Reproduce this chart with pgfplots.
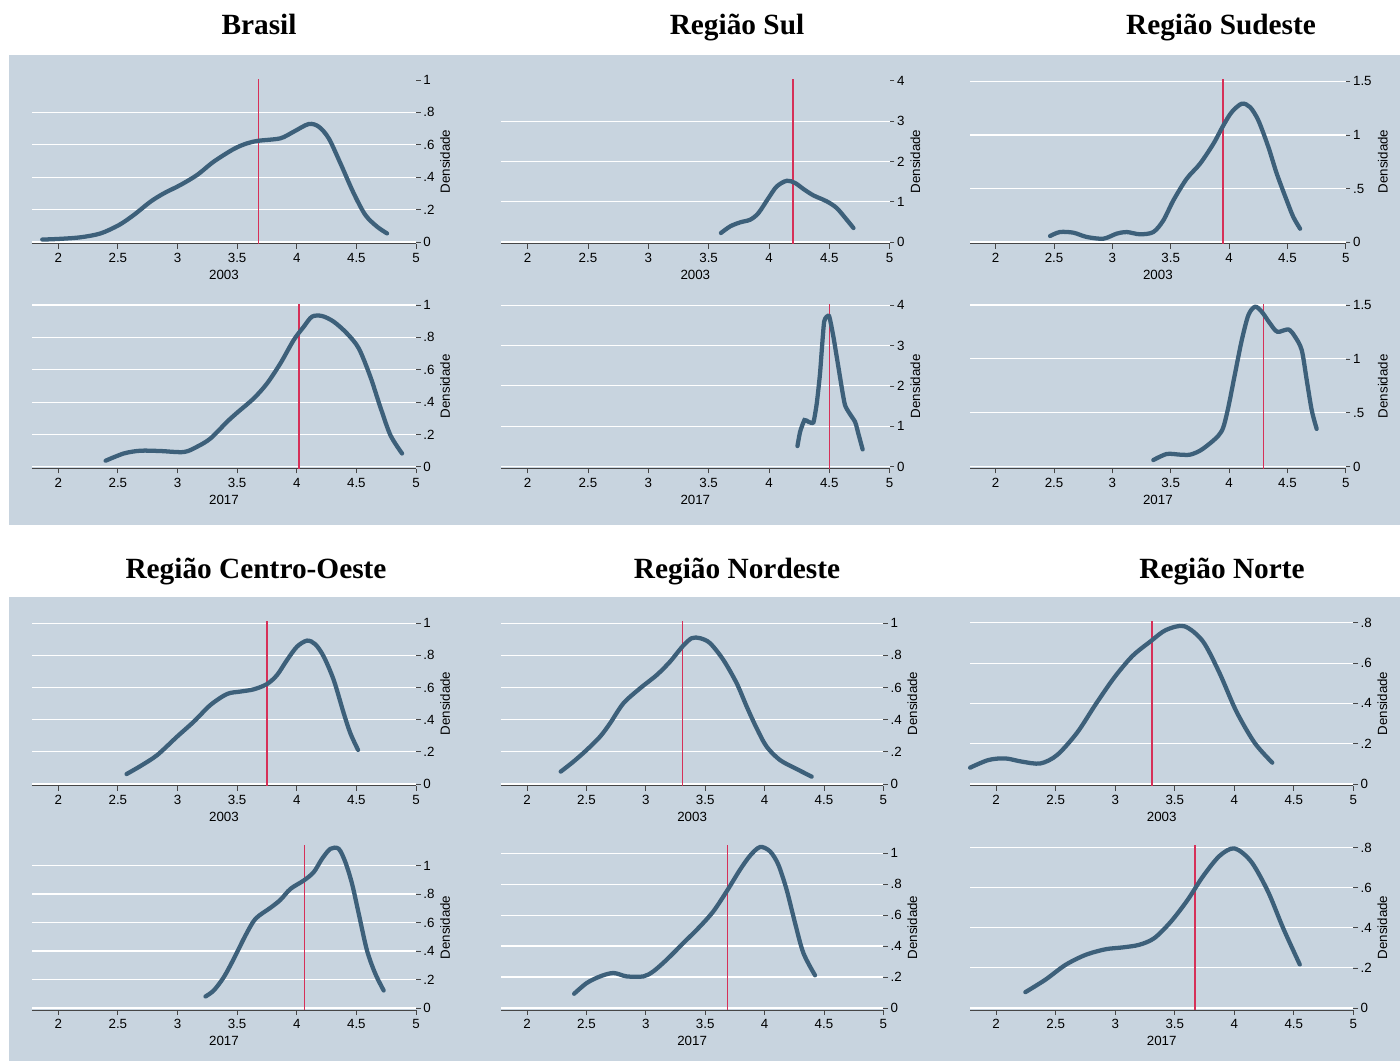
\documentclass[border=0pt]{standalone}
\usepackage{pgfplots}
\pgfplotsset{compat=1.18}
\usepackage{fontspec}
\setmainfont{Liberation Sans}
\newfontfamily\titlefont{Liberation Serif}
\definecolor{bgc}{RGB}{200,212,223}
\definecolor{curvec}{RGB}{61,96,122}
\definecolor{redc}{RGB}{214,48,88}
\definecolor{axisc}{RGB}{70,70,70}
\newcommand\dlab[1]{\node[rotate=90, font=\fontsize{10}{12}\selectfont, inner sep=0pt] at (rel axis cs:#1,0.5) {Densidade};}
\pgfplotsset{
  dens/.style={
    scale only axis, height=123.75pt, anchor=south west,
    xmin=1.78, xmax=5,
    axis x line*=bottom, axis y line*=right,
    x axis line style={draw=axisc, line width=0.75pt, -},
    y axis line style={draw=none},
    xtick={2,2.5,3,3.5,4,4.5,5},
    xticklabels={2,2.5,3,3.5,4,4.5,5},
    tick align=outside, major tick length=3.5pt,
    tick style={draw=axisc, line width=0.6pt},
    ymajorgrids, grid style={white, line width=0.8pt},
    /pgf/number format/assume math mode=true,
    ticklabel style={font=\fontsize{10}{12}\selectfont, text=black},
    yticklabel style={xshift=-1.5pt},
    label style={font=\fontsize{10}{12}\selectfont, text=black},
    xlabel style={yshift=1pt},
    clip=false,
  },
  dcurve/.style={smooth, line width=3.2pt, color=curvec, no markers, line cap=round},
  mline/.style={color=redc, line width=1pt, no markers},
  ybr/.style={ytick={0,0.2,0.4,0.6,0.8,1}, yticklabels={0,.2,.4,.6,.8,1}},
  ynt/.style={ytick={0,0.2,0.4,0.6,0.8}, yticklabels={0,.2,.4,.6,.8}},
  ysul/.style={ytick={0,1,2,3,4}, yticklabels={0,1,2,3,4}},
  yse/.style={ytick={0,0.5,1,1.5}, yticklabels={0,.5,1,1.5}},
}
\begin{document}
\begin{tikzpicture}[x=0.75pt,y=0.75pt]
\useasboundingbox (0,0) rectangle (1400,1061);
\fill[white] (0,0) rectangle (1400,1061);
\fill[bgc] (9,1006) rectangle (1400,536);
\fill[bgc] (9,464) rectangle (1400,0);
\node[anchor=base, font=\titlefont\bfseries\fontsize{22}{26}\selectfont] at (259,1026) {Brasil};
\node[anchor=base, font=\titlefont\bfseries\fontsize{22}{26}\selectfont] at (737,1026) {Região Sul};
\node[anchor=base, font=\titlefont\bfseries\fontsize{22}{26}\selectfont] at (1221,1026) {Região Sudeste};
\node[anchor=base, font=\titlefont\bfseries\fontsize{22}{26}\selectfont] at (256,482) {Região Centro-Oeste};
\node[anchor=base, font=\titlefont\bfseries\fontsize{22}{26}\selectfont] at (737,482) {Região Nordeste};
\node[anchor=base, font=\titlefont\bfseries\fontsize{22}{26}\selectfont] at (1222,482) {Região Norte};

% ---------------- Brasil 2003
\begin{axis}[dens, at={(24pt,612.75pt)}, width=288pt, ymin=-0.0123, ymax=1.006,
  ytick={0,0.2,0.4,0.6,0.8}, yticklabels={0,.2,.4,.6,.8},
  extra y ticks={1}, extra y tick labels={1}, extra y tick style={grid=none}, xlabel={2003}]
\addplot[mline] coordinates {(3.68,-0.0123) (3.68,1.006)};
\addplot[dcurve] coordinates {(1.866,0.015) (2.005,0.019) (2.187,0.029) (2.355,0.053) (2.51,0.105) (2.634,0.167) (2.774,0.249) (2.885,0.30) (3.025,0.352) (3.165,0.414) (3.304,0.496) (3.472,0.574) (3.584,0.609) (3.682,0.625) (3.863,0.640) (3.975,0.681) (4.10,0.728) (4.184,0.712) (4.268,0.640) (4.366,0.486) (4.478,0.30) (4.575,0.167) (4.673,0.095) (4.757,0.053)};
\dlab{1.0755}
\end{axis}
% ---------------- Brasil 2017
\begin{axis}[dens, at={(24pt,444.2pt)}, width=288pt, ymin=-0.0124, ymax=1.008, ybr, xlabel={2017}]
\addplot[mline] coordinates {(4.02,-0.0124) (4.02,1.008)};
\addplot[dcurve] coordinates {(2.397,0.037) (2.55,0.082) (2.69,0.099) (2.858,0.097) (3.053,0.091) (3.165,0.124) (3.277,0.175) (3.416,0.278) (3.50,0.334) (3.64,0.423) (3.751,0.515) (3.863,0.639) (3.975,0.784) (4.059,0.866) (4.128,0.928) (4.212,0.932) (4.31,0.897) (4.42,0.825) (4.52,0.732) (4.617,0.557) (4.70,0.371) (4.785,0.196) (4.883,0.082)};
\dlab{1.0755}
\end{axis}
% ---------------- Sul 2003
\begin{axis}[dens, at={(375.75pt,612.75pt)}, width=291.5pt, ymin=-0.0496, ymax=4.045,
  ytick={0,1,2,3}, yticklabels={0,1,2,3},
  extra y ticks={4}, extra y tick labels={4}, extra y tick style={grid=none}, xlabel={2003}]
\addplot[mline] coordinates {(4.20,-0.0496) (4.20,4.045)};
\addplot[dcurve] coordinates {(3.602,0.223) (3.679,0.388) (3.762,0.488) (3.845,0.554) (3.913,0.719) (3.996,1.091) (4.065,1.38) (4.148,1.52) (4.217,1.463) (4.286,1.314) (4.368,1.157) (4.479,1.008) (4.561,0.843) (4.644,0.554) (4.70,0.347)};
\dlab{1.066}
\end{axis}
% ---------------- Sul 2017
\begin{axis}[dens, at={(375.75pt,444.2pt)}, width=291.5pt, ymin=-0.0495, ymax=4.035, ysul, xlabel={2017}]
\addplot[mline] coordinates {(4.5,-0.0495) (4.5,4.035)};
\addplot[dcurve, tension=0.3] coordinates {(4.236,0.511) (4.258,0.866) (4.294,1.155) (4.327,1.113) (4.368,1.097) (4.396,1.567) (4.423,2.309) (4.457,3.588) (4.498,3.728) (4.534,3.216) (4.575,2.474) (4.63,1.526) (4.713,1.113) (4.74,0.825) (4.776,0.429)};
\dlab{1.066}
\end{axis}
% ---------------- Sudeste 2003
\begin{axis}[dens, at={(727.5pt,612.75pt)}, width=281.8pt, ymin=-0.0187, ymax=1.523, yse, xlabel={2003}]
\addplot[mline] coordinates {(3.948,-0.0187) (3.948,1.523)};
\addplot[dcurve] coordinates {(2.466,0.056) (2.551,0.093) (2.666,0.087) (2.78,0.047) (2.923,0.031) (3.037,0.078) (3.123,0.093) (3.237,0.072) (3.351,0.093) (3.437,0.202) (3.523,0.389) (3.637,0.591) (3.751,0.731) (3.866,0.918) (3.951,1.089) (4.023,1.214) (4.109,1.292) (4.18,1.26) (4.251,1.136) (4.337,0.887) (4.409,0.638) (4.494,0.389) (4.551,0.233) (4.609,0.124)};
\dlab{1.0985}
\end{axis}
% ---------------- Sudeste 2017
\begin{axis}[dens, at={(727.5pt,444.2pt)}, width=281.8pt, ymin=-0.0186, ymax=1.512, yse, xlabel={2017}]
\addplot[mline] coordinates {(4.293,-0.0186) (4.293,1.512)};
\addplot[dcurve] coordinates {(3.351,0.062) (3.466,0.118) (3.58,0.112) (3.666,0.112) (3.751,0.149) (3.837,0.217) (3.909,0.289) (3.951,0.366) (3.994,0.553) (4.051,0.863) (4.109,1.174) (4.166,1.407) (4.223,1.484) (4.28,1.438) (4.351,1.329) (4.414,1.252) (4.509,1.273) (4.566,1.205) (4.623,1.081) (4.666,0.801) (4.709,0.522) (4.751,0.351)};
\dlab{1.0985}
\end{axis}
% ---------------- Centro-Oeste 2003
\begin{axis}[dens, at={(24pt,206.25pt)}, width=288pt, ymin=-0.0124, ymax=1.014, ybr, xlabel={2003}]
\addplot[mline] coordinates {(3.75,-0.0124) (3.75,1.014)};
\addplot[dcurve] coordinates {(2.573,0.062) (2.69,0.112) (2.83,0.18) (2.997,0.295) (3.137,0.388) (3.277,0.492) (3.416,0.56) (3.528,0.575) (3.64,0.589) (3.751,0.622) (3.835,0.678) (3.919,0.772) (4.003,0.855) (4.087,0.892) (4.156,0.869) (4.226,0.793) (4.31,0.647) (4.394,0.44) (4.45,0.315) (4.514,0.212)};
\dlab{1.0755}
\end{axis}
% ---------------- Centro-Oeste 2017
\begin{axis}[dens, at={(24pt,38.25pt)}, width=288pt, ymin=-0.014, ymax=1.144, ybr, xlabel={2017}]
\addplot[mline] coordinates {(4.065,-0.014) (4.065,1.144)};
\addplot[dcurve] coordinates {(3.235,0.081) (3.304,0.123) (3.388,0.216) (3.472,0.345) (3.57,0.509) (3.654,0.626) (3.779,0.703) (3.863,0.759) (3.947,0.836) (4.059,0.895) (4.142,0.953) (4.212,1.047) (4.282,1.117) (4.352,1.117) (4.408,1.023) (4.464,0.871) (4.52,0.661) (4.589,0.404) (4.659,0.24) (4.729,0.123)};
\dlab{1.0755}
\end{axis}
% ---------------- Nordeste 2003
\begin{axis}[dens, at={(375.75pt,206.25pt)}, width=286.7pt, ymin=-0.0124, ymax=1.014, ybr, xlabel={2003}]
\addplot[mline] coordinates {(3.31,-0.0124) (3.31,1.014)};
\addplot[dcurve] coordinates {(2.283,0.077) (2.39,0.139) (2.502,0.212) (2.615,0.295) (2.699,0.378) (2.811,0.502) (2.951,0.595) (3.092,0.678) (3.204,0.761) (3.308,0.855) (3.386,0.907) (3.457,0.907) (3.541,0.876) (3.653,0.772) (3.765,0.627) (3.85,0.481) (3.934,0.346) (4.018,0.232) (4.13,0.149) (4.271,0.093) (4.397,0.046)};
\dlab{1.0759}
\end{axis}
% ---------------- Nordeste 2017
\begin{axis}[dens, at={(375.75pt,38.25pt)}, width=286.7pt, ymin=-0.0129, ymax=1.052, ybr, xlabel={2017}]
\addplot[mline] coordinates {(3.69,-0.0129) (3.69,1.052)};
\addplot[dcurve] coordinates {(2.396,0.092) (2.502,0.161) (2.615,0.204) (2.727,0.226) (2.839,0.204) (2.98,0.204) (3.064,0.237) (3.176,0.312) (3.316,0.419) (3.457,0.527) (3.569,0.624) (3.681,0.753) (3.793,0.892) (3.878,0.983) (3.962,1.039) (4.046,1.011) (4.116,0.925) (4.186,0.763) (4.257,0.548) (4.327,0.355) (4.425,0.211)};
\dlab{1.0759}
\end{axis}
% ---------------- Norte 2003
\begin{axis}[dens, at={(727.5pt,206.25pt)}, width=287.5pt, ymin=-0.0099, ymax=0.809, ynt, xlabel={2003}]
\addplot[mline] coordinates {(3.31,-0.0099) (3.31,0.809)};
\addplot[dcurve] coordinates {(1.781,0.081) (1.935,0.119) (2.076,0.127) (2.216,0.111) (2.371,0.102) (2.512,0.144) (2.68,0.255) (2.835,0.395) (2.99,0.527) (3.144,0.635) (3.299,0.709) (3.425,0.764) (3.58,0.783) (3.735,0.709) (3.875,0.552) (4.016,0.362) (4.17,0.205) (4.319,0.106)};
\dlab{1.0757}
\end{axis}
% ---------------- Norte 2017
\begin{axis}[dens, at={(727.5pt,38.25pt)}, width=287.5pt, ymin=-0.01, ymax=0.813, ynt, xlabel={2017}]
\addplot[mline] coordinates {(3.67,-0.01) (3.67,0.813)};
\addplot[dcurve] coordinates {(2.245,0.079) (2.413,0.141) (2.582,0.215) (2.751,0.265) (2.919,0.293) (3.06,0.302) (3.2,0.315) (3.327,0.348) (3.468,0.431) (3.608,0.539) (3.735,0.655) (3.875,0.758) (4.002,0.796) (4.142,0.73) (4.283,0.581) (4.41,0.399) (4.55,0.217)};
\dlab{1.0757}
\end{axis}
\end{tikzpicture}
\end{document}
